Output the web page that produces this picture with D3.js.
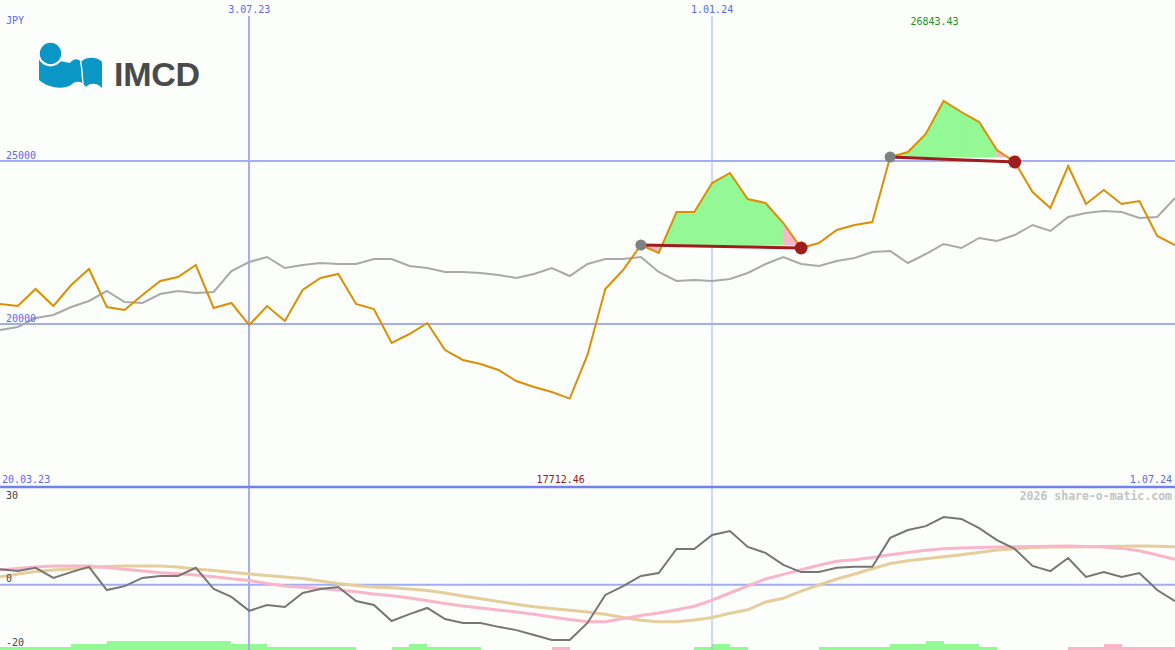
<!DOCTYPE html>
<html><head><meta charset="utf-8">
<script src="https://cdn.jsdelivr.net/npm/d3@7"></script>
<style>html,body{margin:0;padding:0;background:#fbfefb;} svg{display:block;}</style>
</head><body><svg id="c" width="1175" height="650"></svg>
<script>
// ---------- data ----------
const startDate = "2023-03-27";   // first weekly close
const endDate = "2024-07-01";
const price = [20614,20552,21074,20552,21196,21687,20521,20429,20890,21319,21442,21810,20491,20644,19969,20552,20092,21043,21411,21534,20614,20460,19417,19693,20031,19202,18896,18773,18589,18252,18067,17914,17712.46,19049,21074,21656,22423,22178,23436,23436,24325,24632,23834,23712,23098,22331,22485,22883,23037,23129,25123,25276,25828,26843.43,26503,26196,25337,24969,24049,23558,24847,23681,24110,23681,23773,22699,22423];
const avg = [19816,19908,20184,20276,20521,20706,21012,20675,20644,20920,21012,20951,20982,21626,21902,22055,21718,21810,21871,21840,21840,21994,21994,21779,21718,21595,21595,21564,21503,21411,21534,21718,21472,21840,21994,21994,22055,21595,21319,21350,21319,21380,21564,21840,22055,21840,21779,21932,22024,22209,22239,21871,22147,22454,22331,22638,22546,22730,23037,22853,23282,23405,23466,23436,23252,23282,23865];
const osc = [4.8,4.2,5.2,2.1,3.9,5.5,-1.6,-0.4,2.1,2.7,2.7,5.2,-1.3,-3.7,-8.0,-6.2,-6.8,-2.5,-1.3,-0.7,-5.0,-6.2,-11.1,-9.0,-7.1,-10.5,-11.7,-11.7,-12.9,-13.9,-15.4,-16.9,-16.9,-11.7,-3.1,-0.4,2.7,3.6,11.0,11.0,15.3,16.5,11.6,9.8,6.1,3.9,3.9,5.2,5.5,5.5,14.4,16.8,18.0,20.8,20.2,17.4,13.7,11.0,5.8,4.2,8.2,2.4,3.9,2.4,3.6,-1.6,-5.0];
const sigPink = [4.54,5.0,5.46,5.77,5.77,5.77,5.31,4.79,4.23,3.71,3.37,3.01,2.48,1.87,1.29,0.43,-0.4,-0.77,-1.17,-1.6,-2.12,-2.79,-3.34,-4.05,-4.91,-5.71,-6.53,-7.15,-7.7,-8.34,-9.02,-9.88,-10.67,-11.32,-11.32,-10.37,-9.42,-8.65,-7.67,-6.56,-4.72,-2.52,-0.31,1.78,3.19,4.6,5.98,7.21,7.7,8.37,9.2,9.94,10.61,11.04,11.29,11.47,11.56,11.69,11.75,11.84,11.9,11.78,11.6,11.17,10.43,9.14,7.82];
const sigTan = [2.48,3.31,4.08,4.54,4.85,5.21,5.61,5.77,5.77,5.77,5.46,4.88,4.39,3.83,3.31,2.85,2.39,1.9,1.17,0.43,-0.18,-0.64,-0.92,-1.29,-1.75,-2.52,-3.44,-4.26,-5.12,-5.95,-6.75,-7.27,-7.82,-8.34,-9.05,-10.03,-10.89,-11.32,-11.32,-10.8,-10.0,-8.74,-7.67,-5.28,-4.11,-1.96,-0.06,1.78,3.31,4.94,6.53,7.36,7.98,8.59,9.2,9.94,10.67,11.04,11.41,11.56,11.63,11.69,11.75,11.81,11.87,11.81,11.69];
// weekly strength bars (positive = green, negative = pink), one per week interval
const bars = [1,1,1,1,2,2,3,3,3,3,3,3,3,2,2,1,1,1,1,1,0,0,1,2,1,1,1,0,0,0,0,-1,0,0,0,0,0,0,0,1,2,1,0,0,0,0,1,1,1,1,2,2,3,2,2,1,0,0,0,0,-1,-1,-2,-1,-1,-1];
const tickDates = ["2023-07-03","2024-01-01"];
const tickLabels = ["3.07.23","1.01.24"];
const priceGrid = [25000,20000];
const priceGridLabels = ["25000","20000"];
const oscGrid = [0];
const oscLabels = ["30","0","-20"];
const oscLabelValues = [30,0,-20];
const cornerLabels = ["20.03.23","1.07.24"];
const currency = "JPY";
const signals = [{from:36,to:45},{from:50,to:57}];
const copyright = "2026 share-o-matic.com";

// ---------- setup ----------
const W = 1175, H = 650;
const svg = d3.select("#c");
const parse = d3.timeParse("%Y-%m-%d");
const t0 = parse(startDate);
const dates = price.map((d,i)=>d3.timeDay.offset(t0, 7*i));
const x = d3.scaleTime().domain([t0, parse(endDate)]).range([0, W]);
const y = d3.scaleLinear().domain([20000,25000]).range([324,161]);
const yo = d3.scaleLinear().domain([-20,30]).range([650,487]);
const yb = d3.scaleLinear().domain([0,3]).range([650,641]);

const blue = "#5a68ee", gridC = "#a3adf2";
const mono = "'DejaVu Sans Mono', 'Liberation Mono', monospace";
const green = "#94f994", pink = "#f9b6ca";

svg.append("rect").attr("width",W).attr("height",H).attr("fill","#fbfefb");

// bottom bars
svg.append("g").attr("shape-rendering","crispEdges").selectAll("rect").data(bars).join("rect")
  .attr("x",(d,i)=>Math.round(x(dates[i])))
  .attr("width",(d,i)=>Math.round(x(dates[i+1]))-Math.round(x(dates[i])))
  .attr("y",d=>yb(Math.abs(d)))
  .attr("height",d=>650-yb(Math.abs(d)))
  .attr("fill",d=>d>=0?green:pink);

// horizontal grid
svg.append("g").selectAll("line").data(priceGrid).join("line")
  .attr("x1",0).attr("x2",W).attr("y1",d=>y(d)).attr("y2",d=>y(d))
  .attr("stroke",gridC).attr("stroke-width",2);
svg.append("g").selectAll("line").data(oscGrid).join("line")
  .attr("x1",0).attr("x2",W).attr("y1",d=>yo(d)).attr("y2",d=>yo(d))
  .attr("stroke",gridC).attr("stroke-width",2);
// vertical date lines
svg.append("g").selectAll("line").data(tickDates).join("line")
  .attr("x1",d=>Math.round(x(parse(d)))).attr("x2",d=>Math.round(x(parse(d))))
  .attr("y1",16).attr("y2",H)
  .attr("stroke",(d,i)=>i===0?gridC:"#aab2e6").attr("stroke-width",(d,i)=>i===0?2:1);
// panel separator
svg.append("line").attr("x1",0).attr("x2",W).attr("y1",yo(30)).attr("y2",yo(30))
  .attr("stroke","#7282ea").attr("stroke-width",2.5);

// signal fills
const sg = svg.append("g");
signals.forEach(s=>{
  const ref = price[s.from];
  for(let i=s.from;i<s.to;i++){
    const pts=[[x(dates[i]),y(price[i])],[x(dates[i+1]),y(price[i+1])],[x(dates[i+1]),y(ref)],[x(dates[i]),y(ref)]];
    const c = price[i+1]>=ref?green:pink;
    sg.append("path").attr("d","M"+pts.join("L")+"Z")
      .attr("fill",c).attr("stroke",c).attr("stroke-width",0.8).attr("stroke-linejoin","round");
  }
});

// lines upper
const line = d3.line().x((d,i)=>x(dates[i])).y(d=>y(d));
svg.append("path").attr("d",line(avg)).attr("fill","none").attr("stroke","#a9a9a9").attr("stroke-width",2);
svg.append("path").attr("d",line(price)).attr("fill","none").attr("stroke","#db8f05").attr("stroke-width",2);

// signal reference lines & dots
signals.forEach(s=>{
  svg.append("line").attr("x1",x(dates[s.from])).attr("y1",y(price[s.from]))
    .attr("x2",x(dates[s.to])).attr("y2",y(price[s.to]))
    .attr("stroke","#a11d1d").attr("stroke-width",3);
  svg.append("circle").attr("cx",x(dates[s.from])).attr("cy",y(price[s.from])).attr("r",5.5).attr("fill","#808080");
  svg.append("circle").attr("cx",x(dates[s.to])).attr("cy",y(price[s.to])).attr("r",6.5).attr("fill","#a11d1d");
});

// lower lines
const lo = d3.line().x((d,i)=>x(dates[i])).y(d=>yo(d));
svg.append("path").attr("d",lo(sigTan)).attr("fill","none").attr("stroke","#e6cd9c").attr("stroke-width",3);
svg.append("path").attr("d",lo(sigPink)).attr("fill","none").attr("stroke",pink).attr("stroke-width",3);
svg.append("path").attr("d",lo(osc)).attr("fill","none").attr("stroke","#767676").attr("stroke-width",2);

// texts
const txt = (s,xx,yy,fill,anchor,size,weight)=>svg.append("text").text(s).attr("x",xx).attr("y",yy)
  .attr("fill",fill).attr("text-anchor",anchor||"start").attr("font-family",mono)
  .attr("font-size",size||10).attr("font-weight",weight||"normal");
txt(currency,6,24,blue);
tickDates.forEach((d,i)=>txt(tickLabels[i],x(parse(d)),13,blue,"middle"));
priceGrid.forEach((d,i)=>txt(priceGridLabels[i],6,y(d)-2,blue));
txt(cornerLabels[0],2,483,blue);
txt(cornerLabels[1],1172,483,blue,"end");
const iMax = price.indexOf(d3.max(price)), iMin = price.indexOf(d3.min(price));
txt(d3.format(".2f")(price[iMax]),x(dates[iMax])-9,25,"#1f921f","middle");
txt(d3.format(".2f")(price[iMin]),x(dates[iMin])-9,483,"#a01414","middle");
oscLabelValues.forEach((v,i)=>txt(oscLabels[i],6,[499,582,646][i],"#444444"));
txt(copyright,1172,500,"#c4c4c4","end",11.5,"bold");

// logo
const lg = svg.append("g");
lg.append("path").attr("d","M39,57 L70,63 C73,59 78,58 80.5,61.5 L81.5,61.5 C85,57 97,56 102,62 L102,88 C98,83 90,82 86,87 C82,81 76,80 71,85 C63,90 48,88 39,80 Z").attr("fill","#0a97c6");
lg.append("path").attr("d","M80.5,61.5 C82,66 82,74 83,84").attr("fill","none").attr("stroke","#fbfefb").attr("stroke-width",1.4);
lg.append("circle").attr("cx",50.5).attr("cy",53.5).attr("r",11.8).attr("fill","#0a97c6").attr("stroke","#fbfefb").attr("stroke-width",2.2);
lg.append("text").text("IMCD").attr("x",114).attr("y",86).attr("font-family","'Liberation Sans', Arial, sans-serif")
  .attr("font-weight","bold").attr("font-size",34).attr("fill","#4a4a4a").attr("textLength",86);
</script></body></html>
